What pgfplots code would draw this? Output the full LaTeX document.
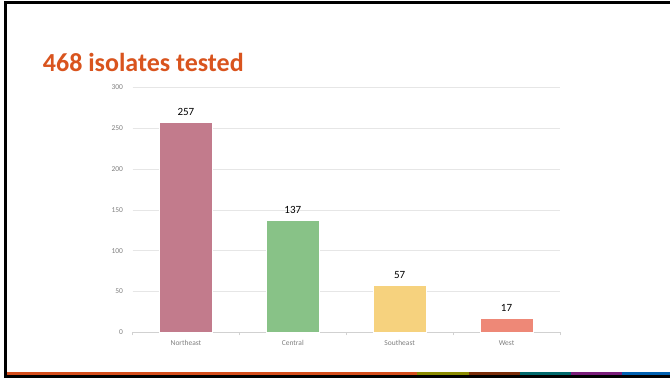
\documentclass[border=0pt]{standalone}
\usepackage{pgfplots}
\pgfplotsset{compat=1.18}
\usepackage{fontspec}
\setmainfont{Carlito}
\definecolor{titleor}{RGB}{217,84,30}
\definecolor{cNE}{RGB}{194,123,140}
\definecolor{cCE}{RGB}{136,194,135}
\definecolor{cSE}{RGB}{246,210,126}
\definecolor{cWE}{RGB}{238,136,119}
\definecolor{gridc}{RGB}{230,230,230}
\definecolor{tickc}{RGB}{128,128,128}
\definecolor{sOr}{RGB}{212,78,28}
\definecolor{sOl}{RGB}{138,138,0}
\definecolor{sBr}{RGB}{122,46,10}
\definecolor{sTe}{RGB}{0,104,108}
\definecolor{sPu}{RGB}{122,30,122}
\definecolor{sBl}{RGB}{0,96,176}
\begin{document}
\begin{tikzpicture}[x=1pt,y=1pt]
\fill[white] (0,0) rectangle (670,378);
% frame
\fill[black] (3.5,0.5) rectangle (7,376.5);
\fill[black] (3.5,373.7) rectangle (670,376.5);
\fill[black] (3.5,0.5) rectangle (670,3);
% stripe
\fill[sOr] (7,3) rectangle (417,6.3);
\fill[sOl] (417,3) rectangle (469,6.3);
\fill[sBr] (469,3) rectangle (520,6.3);
\fill[sTe] (520,3) rectangle (571,6.3);
\fill[sPu] (571,3) rectangle (622,6.3);
\fill[sBl] (622,3) rectangle (670,6.3);
% title
\node[anchor=base west, inner sep=0, text=titleor, font=\fontsize{26}{30}\selectfont\bfseries] at (42.7,306.3) {468 isolates tested};
\begin{axis}[
  at={(132.5pt,45.7pt)}, anchor=south west,
  scale only axis, width=427.5pt, height=245pt,
  xmin=-0.5, xmax=3.5, ymin=0, ymax=300,
  ytick={0,50,...,300},
  xtick={-0.5,0.5,1.5,2.5,3.5},
  xticklabels={Northeast,Central,Southeast,West},
  x tick label as interval,
  ymajorgrids, grid style={gridc, line width=0.6pt},
  axis x line*=bottom, axis y line*=left,
  x axis line style={draw=gridc!80!gray, line width=0.8pt, -},
  y axis line style={draw=none},
  xtick style={draw=gridc!80!gray, line width=0.6pt},
  major tick length=3pt, tick align=outside,
  ytick style={draw=none},
  tick label style={font=\fontsize{7.5}{9}\selectfont, text=tickc},
  yticklabel style={xshift=-3pt},
  xticklabel style={yshift=-1pt, text height=5.2pt, text depth=1.5pt},
  /pgf/number format/assume math mode=true,
  ybar, bar width=53pt, bar shift=0pt,
  nodes near coords,
  every node near coord/.append style={font=\fontsize{11}{13}\selectfont, text=black, inner sep=0pt, anchor=south, yshift=6.5pt},
  clip=false,
]
\addplot[fill=cNE, draw=white, line width=0.6pt] coordinates {(0,257)};
\addplot[fill=cCE, draw=white, line width=0.6pt] coordinates {(1,137)};
\addplot[fill=cSE, draw=white, line width=0.6pt] coordinates {(2,57)};
\addplot[fill=cWE, draw=white, line width=0.6pt] coordinates {(3,17)};
\end{axis}
\path[use as bounding box] (0,0) rectangle (670,378);
\end{tikzpicture}
\end{document}
